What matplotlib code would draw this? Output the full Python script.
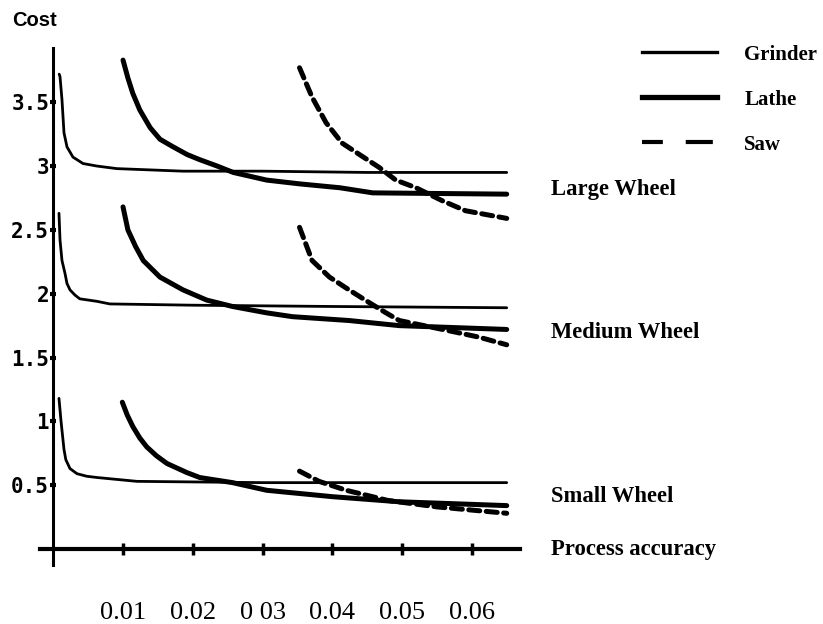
import matplotlib
matplotlib.use("Agg")
import matplotlib.pyplot as plt
from matplotlib.lines import Line2D

# ---------------- data ----------------
wheels = ["Large Wheel", "Medium Wheel", "Small Wheel"]

grinder_large_x = [0.00085, 0.00097, 0.00125, 0.00154, 0.00197, 0.00283, 0.00426, 0.00627, 0.0091, 0.0186, 0.030, 0.045, 0.065]
grinder_large_y = [3.72, 3.70, 3.52, 3.26, 3.15, 3.07, 3.02, 3.00, 2.98, 2.96, 2.96, 2.95, 2.95]
grinder_medium_x = [0.00082, 0.00097, 0.00125, 0.00168, 0.00197, 0.0024, 0.0031, 0.0038, 0.0063, 0.0081, 0.020, 0.040, 0.065]
grinder_medium_y = [2.63, 2.42, 2.26, 2.16, 2.08, 2.03, 1.99, 1.96, 1.94, 1.92, 1.91, 1.90, 1.89]
grinder_small_x = [0.00082, 0.0011, 0.00125, 0.00154, 0.0018, 0.0024, 0.0034, 0.0048, 0.0063, 0.012, 0.030, 0.065]
grinder_small_y = [1.18, 1.01, 0.93, 0.78, 0.70, 0.63, 0.59, 0.57, 0.56, 0.53, 0.52, 0.52]

lathe_large_x = [0.0100, 0.0107, 0.0114, 0.0124, 0.0139, 0.0153, 0.0172, 0.0192, 0.0210, 0.0235, 0.0258, 0.0282, 0.0306, 0.0354, 0.0411, 0.0458, 0.065]
lathe_large_y = [3.83, 3.69, 3.57, 3.44, 3.30, 3.21, 3.15, 3.09, 3.05, 3.00, 2.95, 2.92, 2.89, 2.86, 2.83, 2.79, 2.78]
lathe_medium_x = [0.0100, 0.0107, 0.0118, 0.0129, 0.0153, 0.0186, 0.0220, 0.0257, 0.0306, 0.0343, 0.0424, 0.0496, 0.065]
lathe_medium_y = [2.68, 2.50, 2.37, 2.26, 2.13, 2.03, 1.95, 1.90, 1.85, 1.82, 1.79, 1.75, 1.72]
lathe_small_x = [0.0099, 0.0106, 0.0114, 0.0124, 0.0134, 0.0148, 0.0163, 0.0191, 0.0210, 0.0257, 0.0306, 0.0400, 0.0496, 0.065]
lathe_small_y = [1.15, 1.05, 0.96, 0.87, 0.80, 0.73, 0.67, 0.60, 0.56, 0.52, 0.46, 0.41, 0.37, 0.34]

saw_large_x = [0.0353, 0.0371, 0.0391, 0.0414, 0.0439, 0.0467, 0.0491, 0.0520, 0.0557, 0.0591, 0.065]
saw_large_y = [3.77, 3.54, 3.34, 3.18, 3.09, 2.99, 2.89, 2.83, 2.73, 2.65, 2.59]
saw_medium_x = [0.0353, 0.0371, 0.0396, 0.0424, 0.0453, 0.0477, 0.0496, 0.0567, 0.0610, 0.065]
saw_medium_y = [2.52, 2.26, 2.13, 2.03, 1.93, 1.85, 1.79, 1.71, 1.66, 1.60]
saw_small_x = [0.0353, 0.0381, 0.0420, 0.0480, 0.0550, 0.065]
saw_small_y = [0.61, 0.53, 0.46, 0.38, 0.33, 0.28]

x_ticks = [0.01, 0.02, 0.03, 0.04, 0.05, 0.06]
x_tick_labels = ["0.01", "0.02", "0 03", "0.04", "0.05", "0.06"]
y_ticks = [0.5, 1.0, 1.5, 2.0, 2.5, 3.0, 3.5]
y_tick_labels = ["0.5", "1", "1.5", "2", "2.5", "3", "3.5"]
wheel_label_y = [2.82, 1.70, 0.41]
series_names = ["Grinder", "Lathe", "Saw"]

# ---------------- figure ----------------
fig = plt.figure(figsize=(8.23, 6.24), dpi=100)
ax = fig.add_axes([0.0486, 0.0946, 0.5832, 0.8285])
ax.set_xlim(-0.0019, 0.0669)
ax.set_ylim(-0.125, 3.925)

for s in ["top", "right"]:
    ax.spines[s].set_visible(False)
ax.spines["left"].set_position(("data", 0))
ax.spines["bottom"].set_position(("data", 0))
ax.spines["left"].set_linewidth(2.2)
ax.spines["bottom"].set_linewidth(3.0)

grind_kw = dict(color="black", lw=2.0, solid_capstyle="round", solid_joinstyle="round")
lathe_kw = dict(color="black", lw=3.6, solid_capstyle="round", solid_joinstyle="round")
saw_kw = dict(color="black", lw=3.6, linestyle=(0, (2.2, 1.3)), dash_capstyle="round")

ax.plot(grinder_large_x, grinder_large_y, **grind_kw)
ax.plot(grinder_medium_x, grinder_medium_y, **grind_kw)
ax.plot(grinder_small_x, grinder_small_y, **grind_kw)
ax.plot(lathe_large_x, lathe_large_y, **lathe_kw)
ax.plot(lathe_medium_x, lathe_medium_y, **lathe_kw)
ax.plot(lathe_small_x, lathe_small_y, **lathe_kw)
ax.plot(saw_large_x, saw_large_y, **saw_kw)
ax.plot(saw_medium_x, saw_medium_y, **saw_kw)
ax.plot(saw_small_x, saw_small_y, **saw_kw)

ax.set_xticks(x_ticks)
ax.set_xticklabels(x_tick_labels, family="Liberation Serif", fontsize=19)
ax.set_yticks(y_ticks)
ax.set_yticklabels(y_tick_labels, family="DejaVu Sans Mono", fontweight="bold", fontsize=15)
ax.tick_params(axis="x", direction="inout", length=9, width=2.5, pad=34)
ax.tick_params(axis="y", direction="inout", length=5, width=3, pad=0.5)

# wheel labels
for name, yv in zip(wheels, wheel_label_y):
    ax.text(0.0714, yv, name, family="Liberation Serif", fontweight="bold",
            fontsize=16.3, va="center", ha="left", clip_on=False)
ax.text(0.0714, 0.0, "Process accuracy", family="Liberation Serif", fontweight="bold",
        fontsize=16.3, va="center", ha="left", clip_on=False)

fig.text(0.015, 0.982, "Cost", family="Liberation Sans", fontweight="bold",
         fontsize=14.5, va="top", ha="left")

# legend
handles = [
    Line2D([], [], color="black", lw=2.4),
    Line2D([], [], color="black", lw=3.8),
    Line2D([], [], color="black", lw=3.0, linestyle=(1.5, (6.5, 5.5))),
]
leg = ax.legend(handles, series_names, loc="upper left", bbox_to_anchor=(0.7587, 0.957),
                bbox_transform=fig.transFigure, frameon=False, handlelength=3.6,
                handletextpad=1.3, labelspacing=1.2, borderpad=0.35,
                prop=dict(family="Liberation Serif", weight="bold", size=15))

fig.savefig("out.png", dpi=100)
